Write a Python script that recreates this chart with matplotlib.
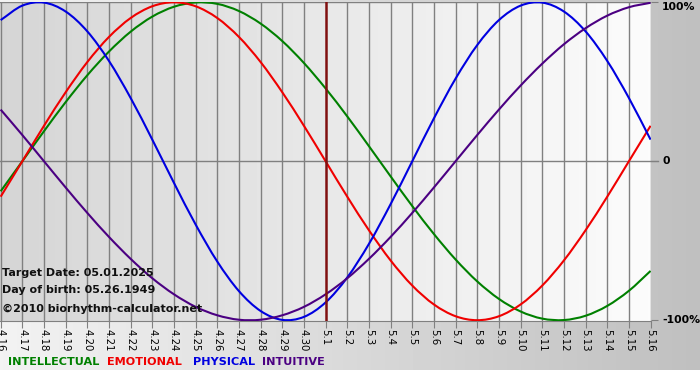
import numpy as np
import matplotlib.pyplot as plt
from matplotlib.path import Path
from matplotlib.patches import PathPatch

# day labels, 4.16 .. 5.16
days = ["4.16", "4.17", "4.18", "4.19", "4.20", "4.21", "4.22", "4.23", "4.24", "4.25",
        "4.26", "4.27", "4.28", "4.29", "4.30", "5.1", "5.2", "5.3", "5.4", "5.5",
        "5.6", "5.7", "5.8", "5.9", "5.10", "5.11", "5.12", "5.13", "5.14", "5.15", "5.16"]

physical = [0.888, 0.979, 0.998, 0.942, 0.817, 0.631, 0.398, 0.136, -0.136, -0.398,
            -0.631, -0.817, -0.942, -0.998, -0.979, -0.888, -0.731, -0.520, -0.270, 0.000,
            0.270, 0.520, 0.731, 0.888, 0.979, 0.998, 0.942, 0.817, 0.631, 0.398, 0.136]
emotional = [-0.223, 0.000, 0.223, 0.434, 0.624, 0.782, 0.901, 0.975, 1.000, 0.975,
             0.901, 0.782, 0.624, 0.434, 0.223, 0.000, -0.223, -0.434, -0.624, -0.782,
             -0.901, -0.975, -1.000, -0.975, -0.901, -0.782, -0.624, -0.434, -0.223, 0.000, 0.223]
intellectual = [-0.189, 0.000, 0.189, 0.372, 0.541, 0.690, 0.815, 0.910, 0.972, 0.999,
                0.990, 0.945, 0.866, 0.756, 0.618, 0.458, 0.282, 0.095, -0.095, -0.282,
                -0.458, -0.618, -0.756, -0.866, -0.945, -0.990, -0.999, -0.972, -0.910, -0.815, -0.690]
intuitive = [0.325, 0.165, 0.000, -0.165, -0.325, -0.476, -0.614, -0.736, -0.837, -0.916,
             -0.969, -0.997, -0.997, -0.969, -0.916, -0.837, -0.736, -0.614, -0.476, -0.325,
             -0.165, 0.000, 0.165, 0.325, 0.476, 0.614, 0.736, 0.837, 0.916, 0.969, 0.997]

target_idx = 15  # 5.1

W, H = 700, 380


def smooth_line(ax, xs, ys, color):
    # draw the series as a smooth bezier curve through the daily points
    xs = np.asarray(xs, float)
    ys = np.asarray(ys, float)
    n = len(xs)
    verts = [(xs[0], ys[0])]
    codes = [Path.MOVETO]
    for i in range(n - 1):
        x0, y0 = (xs[i - 1], ys[i - 1]) if i > 0 else (2 * xs[0] - xs[1], 2 * ys[0] - ys[1])
        x3, y3 = (xs[i + 2], ys[i + 2]) if i + 2 < n else (2 * xs[-1] - xs[-2], 2 * ys[-1] - ys[-2])
        c1 = (xs[i] + (xs[i + 1] - x0) / 6, ys[i] + (ys[i + 1] - y0) / 6)
        c2 = (xs[i + 1] - (x3 - xs[i]) / 6, ys[i + 1] - (y3 - ys[i]) / 6)
        verts += [c1, c2, (xs[i + 1], ys[i + 1])]
        codes += [Path.CURVE4] * 3
    ax.add_patch(PathPatch(Path(verts, codes), fill=False, edgecolor=color, lw=1.5, zorder=3))


fig = plt.figure(figsize=(7, 3.8), dpi=100)

# whole-figure background: gray gradient band, white at bottom
bg = fig.add_axes([0, 0, 1, 1], zorder=-1)
img = np.tile(np.linspace(0.95, 0.75, 200), (10, 1))
bg.imshow(img, cmap="gray", vmin=0, vmax=1, extent=[0, W, H - 370, H], aspect="auto")
bg.set_xlim(0, W)
bg.set_ylim(0, H)
bg.axis("off")

ax = fig.add_axes([0, 1 - 321 / H, 651 / W, 319.5 / H])
x = np.arange(len(days))
ax.set_xlim(-0.03, 30.02)
ax.set_ylim(-1.005, 1.005)

# plot area gradient
pg = np.tile(np.linspace(0.835, 0.985, 200), (10, 1))
ax.imshow(pg, cmap="gray", vmin=0, vmax=1, extent=[-0.03, 30.02, -1.005, 1.005],
          aspect="auto", zorder=0)

for i in x:
    if i == target_idx:
        continue
    ax.axvline(i, color="#808080", lw=1.0, zorder=1)
ax.axhline(0, color="#808080", lw=1.0, zorder=1, clip_on=False, xmax=1.01)
ax.axhline(1.0, color="#808080", lw=1.0, zorder=1)

smooth_line(ax, x, intellectual, "#008000")
smooth_line(ax, x, emotional, "#f00000")
smooth_line(ax, x, physical, "#0000e0")
smooth_line(ax, x, intuitive, "#4b0082")
ax.axvline(target_idx, color="#801010", lw=1.8, zorder=4)

for s in ax.spines.values():
    s.set_visible(False)
ax.spines["bottom"].set_visible(True)
ax.spines["bottom"].set_color("#808080")

ax.set_xticks(x)
ax.set_xticklabels(days, rotation=-90, fontsize=7.3)
ax.tick_params(axis="x", length=5, color="#808080", pad=1)

ax.yaxis.tick_right()
ax.set_yticks([-1, 0, 1])
ax.set_yticklabels(["-100%", "0", "100%"], fontsize=7.8, fontweight="bold")
ax.tick_params(axis="y", length=5, color="#808080", pad=3, right=True, left=False)
labs = ax.get_yticklabels()
labs[0].set_verticalalignment("center")
labs[1].set_verticalalignment("center")
labs[2].set_verticalalignment("top")

tr = ax.get_yaxis_transform()
ax.text(0.003, -0.705, "Target Date: 05.01.2025", transform=tr,
        fontsize=8, fontweight="bold", color="#101010", zorder=5, va="center")
ax.text(0.003, -0.81, "Day of birth: 05.26.1949", transform=tr,
        fontsize=8, fontweight="bold", color="#101010", zorder=5, va="center")
ax.text(0.003, -0.93, "\u00a92010 biorhythm-calculator.net", transform=tr,
        fontsize=8, fontweight="bold", color="#101010", zorder=5, va="center")

# legend row
leg = [("INTELLECTUAL", "#008000", 8), ("EMOTIONAL", "#f00000", 107),
       ("PHYSICAL", "#0000e0", 193), ("INTUITIVE", "#4b0082", 262)]
for name, col, px in leg:
    fig.text(px / W, 1 - 362 / H, name, color=col, fontsize=8.1, fontweight="bold",
             va="center", ha="left")

fig.savefig("out.png", dpi=100)
